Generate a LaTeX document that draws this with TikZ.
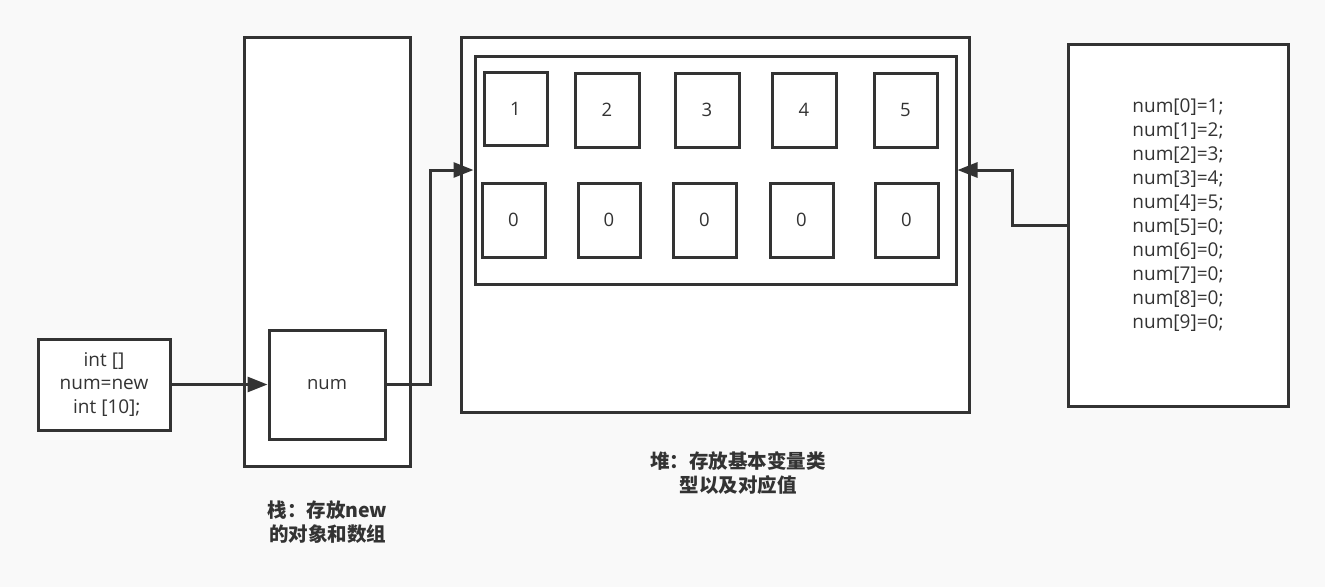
\documentclass[tikz,border=0pt]{standalone}
\usepackage{fontspec}
\setmainfont{Open Sans}
\newfontfamily\cjk{Noto Sans CJK SC}
\usetikzlibrary{arrows.meta}
\definecolor{bg}{HTML}{F9F9F9}
\definecolor{ln}{HTML}{333333}
\begin{document}
\begin{tikzpicture}[x=1pt,y=-1pt,
  box/.style={draw=ln, line width=3pt, fill=white, inner sep=0pt, text=ln,
    font=\fontsize{18.5}{23.5}\selectfont, align=center},
  conn/.style={draw=ln, line width=3pt, -{Triangle[length=20pt,width=15pt]}},
  txt/.style={text=ln, align=center, inner sep=0pt},
  cnlabel/.style={text=ln, align=center, inner sep=0pt, font=\cjk\bfseries\fontsize{19.5}{23.5}\selectfont}]
\fill[bg] (0,0) rectangle (1325,587);
\useasboundingbox (0,0) rectangle (1325,587);

% stack
\node[box, minimum width=166pt, minimum height=429pt] (stack) at (327,251.5) {};
\node[box, minimum width=116pt, minimum height=109pt] (num) at (327,384.5) {num};
\node[box, minimum width=132pt, minimum height=91pt, font=\fontsize{19}{23.5}\selectfont] (code) at (104,384.5) {int []\\num=new\\\hspace*{0.3em}int [10];};

% heap
\node[box, minimum width=508pt, minimum height=375pt] (heap) at (715,224.5) {};
\node[box, minimum width=481pt, minimum height=228pt] (inner) at (715.5,170) {};
\node[box, minimum width=63pt, minimum height=73pt] (t1) at (515.5,108.5) {1};
\node[box, minimum width=64pt, minimum height=74pt] (t2) at (607,110) {2};
\node[box, minimum width=64pt, minimum height=74pt] (t3) at (707,110) {3};
\node[box, minimum width=64pt, minimum height=74pt] (t4) at (804,110) {4};
\node[box, minimum width=63pt, minimum height=74pt] (t5) at (905.5,110) {5};
\node[box, minimum width=63pt, minimum height=74pt] (b1) at (513.5,220) {0};
\node[box, minimum width=62pt, minimum height=74pt] (b2) at (609,220) {0};
\node[box, minimum width=63pt, minimum height=74pt] (b3) at (704.5,220) {0};
\node[box, minimum width=63pt, minimum height=74pt] (b4) at (801.5,220) {0};
\node[box, minimum width=63pt, minimum height=74pt] (b5) at (906.5,220) {0};

% right box
\node[box, minimum width=220pt, minimum height=362pt] (right) at (1178,225) {};
\node[txt, font=\fontsize{19}{24}\selectfont] (assign) at (1178,215)
  {num[0]=1;\\num[1]=2;\\num[2]=3;\\num[3]=4;\\num[4]=5;\\num[5]=0;\\num[6]=0;\\num[7]=0;\\num[8]=0;\\num[9]=0;};

% labels
\node[cnlabel] (stacklbl) at (327.5,522) {栈：存放new\\的对象和数组};
\node[cnlabel] (heaplbl) at (738,473) {堆：存放基本变量类\\型以及对应值};

% connectors
\coordinate (j1) at (430,0);
\coordinate (j2) at (1012,0);
\draw[conn] (code.east) -- (num.west);
\draw[conn] (num.east) -- (num.east -| j1) |- (inner.west);
\draw[conn] (right.west) -- (right.west -| j2) |- (inner.east);
\end{tikzpicture}
\end{document}
